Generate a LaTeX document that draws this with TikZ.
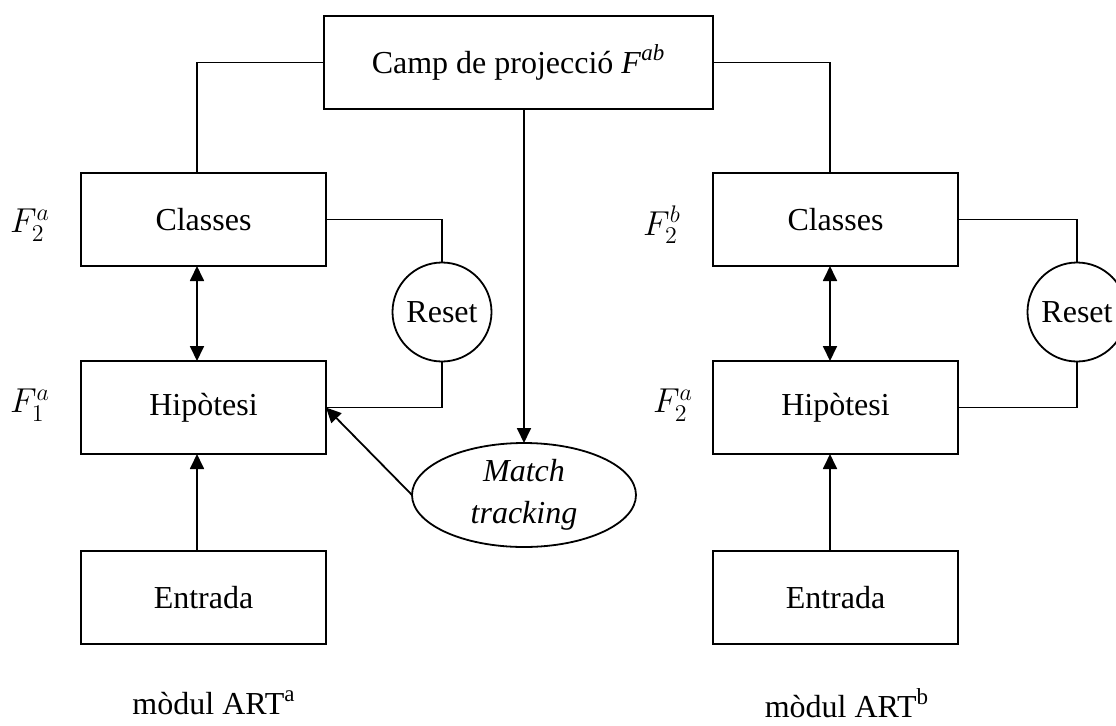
\documentclass[tikz,border=0pt]{standalone}
\usepackage{fontspec}
\setmainfont{Liberation Serif}
\DeclareMathSizes{16}{16}{11.5}{9}
\usetikzlibrary{shapes.geometric,arrows.meta}
\begin{document}
\begin{tikzpicture}[x=0.5pt,y=-0.5pt,
  every node/.style={font=\fontsize{16}{21}\selectfont},
  box/.style={draw,line width=0.9pt,rectangle,minimum width=122.5pt,minimum height=46.5pt,inner sep=0pt,outer sep=0pt},
  topbox/.style={box,minimum width=194.5pt},
  resetc/.style={draw,line width=0.9pt,circle,minimum size=49.5pt,inner sep=0pt,outer sep=0pt},
  mtell/.style={draw,line width=0.9pt,ellipse,minimum width=112pt,minimum height=52pt,inner sep=0pt,outer sep=0pt,align=center},
  conn/.style={line width=0.9pt},
  arr/.style={conn,-{Triangle[length=7.5pt,width=7pt]}},
  darr/.style={conn,{Triangle[length=7.5pt,width=7pt]}-{Triangle[length=7.5pt,width=7pt]}},
  lbl/.style={inner sep=0pt}
]
\useasboundingbox (0,0) rectangle (1116,725);

% top box
\node[topbox] (top) at (518.5,62.5) {Camp de projecció \textit{F}\textsuperscript{\textit{ab}}};

% left module
\node[box] (clsA) at (203.5,219.5) {Classes};
\node[box] (hypA) at (203.5,407.5) {Hipòtesi};
\node[box] (entA) at (203.5,597.5) {Entrada};
\node[resetc] (resA) at (442,312) {Reset};
\coordinate (colA) at (197,0);

% right module
\node[box] (clsB) at (835.5,219.5) {Classes};
\node[box] (hypB) at (835.5,407.5) {Hipòtesi};
\node[box] (entB) at (835.5,597.5) {Entrada};
\node[resetc] (resB) at (1077,312) {Reset};
\coordinate (colB) at (830,0);

% match tracking
\node[mtell] (mt) at (524,495) {\textit{Match}\\\textit{tracking}};

% labels
\node[lbl] (fA2) at (30,225) {$F_2^a$};
\node[lbl] (fA1) at (30,405) {$F_1^a$};
\node[lbl] (fB2) at (662,225) {$F_2^b$};
\node[lbl] (fB1) at (673,405) {$F_2^a$};
\node[lbl] (modA) at (214,703) {mòdul ART\textsuperscript{a}};
\node[lbl] (modB) at (847,703) {mòdul ART\textsuperscript{b}};

% connectors
\draw[conn] (top.west) -| (clsA.north -| colA);
\draw[conn] (top.east) -| (clsB.north -| colB);
\draw[arr] (top.south -| mt.north) -- (mt.north);

\draw[darr] (clsA.south -| colA) -- (hypA.north -| colA);
\draw[arr] (entA.north -| colA) -- (hypA.south -| colA);
\draw[conn] (clsA.east) -| (resA.north);
\draw[conn] (resA.south) |- (hypA.east);
\draw[arr] (mt.west) -- (hypA.east);

\draw[darr] (clsB.south -| colB) -- (hypB.north -| colB);
\draw[arr] (entB.north -| colB) -- (hypB.south -| colB);
\draw[conn] (clsB.east) -| (resB.north);
\draw[conn] (resB.south) |- (hypB.east);
\end{tikzpicture}
\end{document}
